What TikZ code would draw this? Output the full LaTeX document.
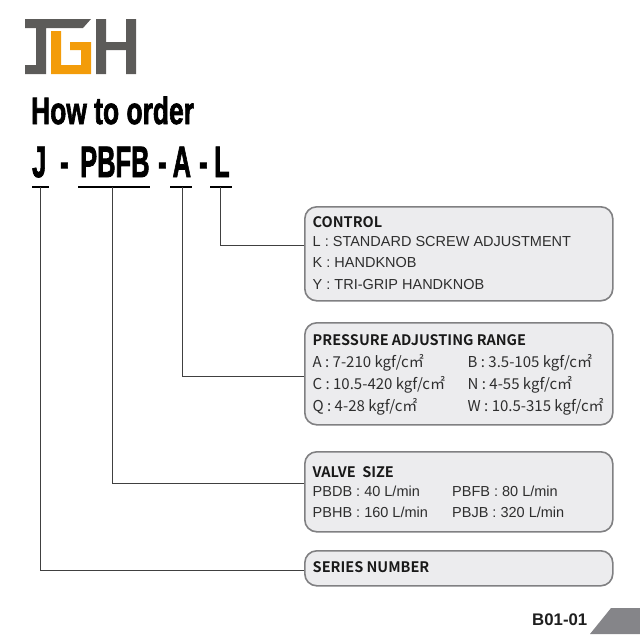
\documentclass[tikz,border=0pt]{standalone}
\usepackage{fontspec}
\setmainfont{Liberation Sans}
\newfontfamily\srcreg{Noto Sans CJK SC}
\newfontfamily\srcbold{Noto Sans CJK SC Bold}
\newfontfamily\heavyf[FakeBold=2.2]{Liberation Sans Bold}
\definecolor{boxfill}{HTML}{ECECEE}
\definecolor{boxline}{HTML}{808082}
\definecolor{logogray}{HTML}{5C5B59}
\definecolor{logoorange}{HTML}{F39C0A}
\definecolor{tabgray}{HTML}{858589}
\newcommand{\sqcm}{c㎡}
\tikzset{
 infobox/.style={draw=boxline,line width=1.6pt,fill=boxfill,rounded corners=12pt,inner sep=0pt,anchor=north west},
 headtxt/.style={anchor=base west,inner sep=0pt,font=\srcbold\fontsize{14.5}{14}\selectfont,text=black!90},
 bodytxt/.style={anchor=base west,inner sep=0pt,font=\fontsize{14.5}{14}\selectfont,text=black!82},
 prestxt/.style={anchor=base west,inner sep=0pt,font=\srcreg\fontsize{15}{15}\selectfont,text=black!82},
 bigtxt/.style={anchor=base west,inner sep=0pt,font=\heavyf\fontsize{44}{44}\selectfont,xscale=.58},
 ruler/.style={fill=black,inner sep=0pt,anchor=center,minimum height=2.4pt},
 conn/.style={draw=black!75,line width=1pt},
}
\begin{document}
\begin{tikzpicture}[x=1pt,y=-1pt]
\useasboundingbox (0,0) rectangle (640,640);
% logo
\fill[logogray] (25,19)--(91,19)--(83,28)--(46,28)--(46,74)--(25,74)--(25,65)--(36,65)--(36,28)--(25,28)--cycle;
\fill[logoorange] (51,31)--(61,31)--(61,65)--(81,65)--(81,50)--(70,50)--(70,42)--(91,42)--(91,74)--(51,74)--cycle;
\fill[logogray] (96,19)--(106,19)--(106,42)--(126,42)--(126,19)--(136,19)--(136,74)--(126,74)--(126,50)--(106,50)--(106,74)--(96,74)--cycle;
% headings
\node[anchor=base west,inner sep=0pt,font=\heavyf\fontsize{38}{38}\selectfont,xscale=.695] (title) at (31,124) {How to order};
\node[bigtxt] (pJ) at (32,177) {J};
\node[bigtxt] (d1) at (60,177) {-};
\node[bigtxt] (pP) at (80,177) {PBFB};
\node[bigtxt] (d2) at (158,177) {-};
\node[bigtxt] (pA) at (172.5,177) {A};
\node[bigtxt] (d3) at (199,177) {-};
\node[bigtxt] (pL) at (214,177) {L};
% underlines
\node[ruler,minimum width=17pt] (uJ) at (40.5,187) {};
\node[ruler,minimum width=72pt] (uP) at (114,187) {};
\node[ruler,minimum width=22pt] (uA) at (181,187) {};
\node[ruler,minimum width=22pt] (uL) at (221,187) {};
\coordinate (cJ) at (40.5,187);
\coordinate (cP) at (112.5,187);
\coordinate (cA) at (182.5,187);
\coordinate (cL) at (220.5,187);
\coordinate (eJ) at (305,570);
\coordinate (eP) at (305,483);
\coordinate (eA) at (305,376);
\coordinate (eL) at (305,245);
\draw[conn] (cJ) |- (eJ);
\draw[conn] (cP) |- (eP);
\draw[conn] (cA) |- (eA);
\draw[conn] (cL) |- (eL);
% boxes
\node[infobox,minimum width=308pt,minimum height=94pt] (control) at (304,206) {};
\node[infobox,minimum width=308pt,minimum height=102pt] (pressure) at (304,322) {};
\node[infobox,minimum width=308pt,minimum height=80pt] (valve) at (304,451) {};
\node[infobox,minimum width=308pt,minimum height=35pt] (series) at (304,550) {};
% control
\node[headtxt] (t1) at (312.5,227) {CONTROL};
\node[bodytxt] (t2) at (312.5,246) {L : STANDARD SCREW ADJUSTMENT};
\node[bodytxt] (t3) at (312.5,267) {K : HANDKNOB};
\node[bodytxt] (t4) at (312.5,289) {Y : TRI-GRIP HANDKNOB};
% pressure
\node[headtxt] (t5) at (312.5,345) {PRESSURE ADJUSTING RANGE};
\node[prestxt] (a1) at (312.5,367) {A : 7-210 kgf/\sqcm};
\node[prestxt] (a2) at (467.5,367) {B : 3.5-105 kgf/\sqcm};
\node[prestxt] (a3) at (312.5,389) {C : 10.5-420 kgf/\sqcm};
\node[prestxt] (a4) at (467.5,389) {N : 4-55 kgf/\sqcm};
\node[prestxt] (a5) at (312.5,411) {Q : 4-28 kgf/\sqcm};
\node[prestxt] (a6) at (467.5,411) {W : 10.5-315 kgf/\sqcm};
% valve
\node[headtxt] (t6) at (312.5,477) {VALVE\ \ SIZE};
\node[bodytxt] (v1) at (312.5,496) {PBDB : 40 L/min};
\node[bodytxt] (v2) at (452,496) {PBFB : 80 L/min};
\node[bodytxt] (v3) at (312.5,517) {PBHB : 160 L/min};
\node[bodytxt] (v4) at (452,517) {PBJB : 320 L/min};
% series
\node[headtxt] (t7) at (312.5,572) {SERIES NUMBER};
% footer
\node[anchor=base west,inner sep=0pt,font=\bfseries\fontsize{16.8}{15}\selectfont,text=black!88] (pg) at (532,625) {B01-01};
\fill[tabgray] (590,634)--(611,608)--(640,608)--(640,634)--cycle;
\end{tikzpicture}
\end{document}
